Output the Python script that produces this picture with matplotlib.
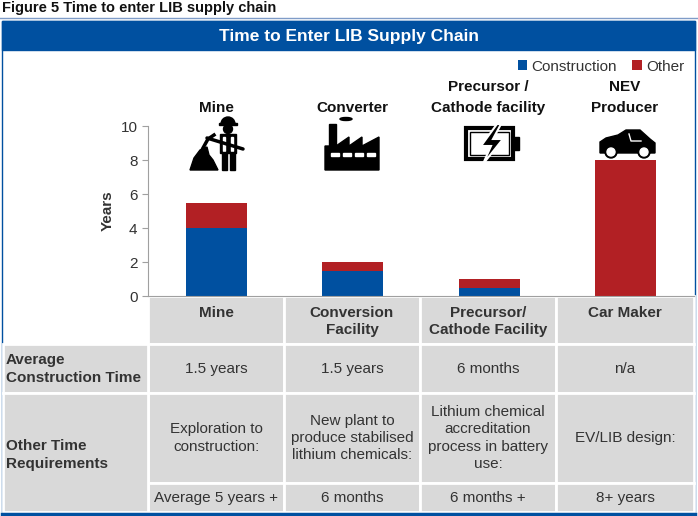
import matplotlib
matplotlib.use("Agg")
import matplotlib.pyplot as plt
from matplotlib.patches import Rectangle, Polygon, Circle, Wedge, Ellipse

plt.rcParams['font.family'] = ['Liberation Sans', 'DejaVu Sans']

categories = ["Mine", "Converter", "Precursor /\nCathode facility", "NEV\nProducer"]
construction = [4.0, 1.5, 0.5, 0.0]
other = [1.5, 0.5, 0.5, 8.0]
yticks = [0, 2, 4, 6, 8, 10]

table_cols = ["Mine", "Conversion\nFacility", "Precursor/\nCathode Facility", "Car Maker"]
row_labels = ["Average\nConstruction Time", "Other Time\nRequirements"]
avg_construction = ["1.5 years", "1.5 years", "6 months", "n/a"]
other_desc = ["Exploration to\nconstruction:", "New plant to\nproduce stabilised\nlithium chemicals:",
              "Lithium chemical\naccreditation\nprocess in battery\nuse:", "EV/LIB design:"]
other_time = ["Average 5 years +", "6 months", "6 months +", "8+ years"]

blue = "#0050a0"
red = "#b22024"
grey = "#d9d9d9"
txt = "#333333"

W, H = 698, 516
fig = plt.figure(figsize=(W / 100, H / 100), dpi=100)

# background layer in pixel coordinates
bg = fig.add_axes([0, 0, 1, 1])
bg.set_xlim(0, W)
bg.set_ylim(H, 0)
bg.axis("off")

bg.text(2, 8, "Figure 5 Time to enter LIB supply chain", fontsize=10.5, fontweight="bold",
        va="center", ha="left", color="#111111")
bg.plot([0, W], [17.5, 17.5], color="#7f9cc8", lw=1)

# frame and title bar
bg.add_patch(Rectangle((2, 21), 693, 491, fill=False, ec=blue, lw=1))
bg.add_patch(Rectangle((2, 21), 693, 29, color=blue))
bg.text(349, 36, "Time to Enter LIB Supply Chain", color="white", fontsize=12.5,
        fontweight="bold", ha="center", va="center")

# table
col_x = [148, 284, 420, 556, 694]
rows_y = [296, 344, 393, 483, 512]
for i in range(4):
    for j in range(4):
        bg.add_patch(Rectangle((col_x[i], rows_y[j]), col_x[i + 1] - col_x[i], rows_y[j + 1] - rows_y[j],
                               fc=grey, ec="white", lw=2))
bg.add_patch(Rectangle((3, 344), 145, 49, fc=grey, ec="white", lw=2))
bg.add_patch(Rectangle((3, 393), 145, 119, fc=grey, ec="white", lw=2))
bg.plot([2, 695], [513.5, 513.5], color=blue, lw=2.5)

for i in range(4):
    cx = (col_x[i] + col_x[i + 1]) / 2
    bg.text(cx, 306, table_cols[i], ha="center", va="top", fontsize=11, fontweight="bold",
            color=txt, linespacing=1.3)
    bg.text(cx, 369, avg_construction[i], ha="center", va="center", fontsize=11, color=txt)
    bg.text(cx, 438, other_desc[i], ha="center", va="center", fontsize=11, color=txt, linespacing=1.3)
    bg.text(cx, 498, other_time[i], ha="center", va="center", fontsize=11, color=txt)
bg.text(6, 369, row_labels[0], ha="left", va="center", fontsize=11, fontweight="bold",
        color=txt, linespacing=1.3)
bg.text(6, 455, row_labels[1], ha="left", va="center", fontsize=11, fontweight="bold",
        color=txt, linespacing=1.3)

# chart
ax = fig.add_axes([148 / W, (H - 296) / H, 546 / W, 170 / H])
ax.set_facecolor("none")
x = list(range(len(categories)))
b1 = ax.bar(x, construction, width=0.45, color=blue, label="Construction")
b2 = ax.bar(x, other, width=0.45, bottom=construction, color=red, label="Other")
ax.set_xlim(-0.5, 3.5)
ax.set_ylim(0, 10)
ax.set_yticks(yticks)
ax.tick_params(axis="y", labelsize=11, labelcolor=txt, color="#a0a0a0", length=4)
ax.set_xticks([])
for s in ["top", "right"]:
    ax.spines[s].set_visible(False)
for s in ["left", "bottom"]:
    ax.spines[s].set_color("#a0a0a0")
ax.set_ylabel("Years", fontsize=11, fontweight="bold", color=txt, labelpad=4)
ax.legend(loc="upper right", bbox_to_anchor=(692 / W, (H - 52) / H), bbox_transform=fig.transFigure,
          frameon=False, fontsize=11, handlelength=0.6, handleheight=0.6, handletextpad=0.3,
          columnspacing=1.0, ncol=2, labelcolor=txt, borderpad=0)

# category headings above the bars
for i, c in enumerate(categories):
    cx = (col_x[i] + col_x[i + 1]) / 2
    bg.text(cx, 115, c, ha="center", va="bottom", fontsize=11, fontweight="bold",
            color="#111111", linespacing=1.6)

# icons (drawn on the background layer)
k = "black"
# miner
bg.add_patch(Wedge((228, 124), 7, 180, 360, color=k))
bg.add_patch(Rectangle((219, 123), 18, 2, color=k))
bg.add_patch(Circle((228, 129), 4.5, color=k))
bg.add_patch(Rectangle((220, 134), 16, 19, color=k))
bg.add_patch(Rectangle((223, 137), 2, 14, color="white"))
bg.add_patch(Rectangle((231, 137), 2, 14, color="white"))
bg.add_patch(Rectangle((221.5, 152), 5, 18, color=k))
bg.add_patch(Rectangle((229.5, 152), 5, 18, color=k))
bg.plot([207, 243], [138, 149], color=k, lw=2.5, solid_capstyle="round")
bg.plot([203, 208, 214], [148, 139, 135], color=k, lw=2.5)
bg.add_patch(Polygon([(190, 170), (194, 158), (200, 150), (207, 147), (209, 155), (213, 160),
                      (218, 170)], color=k))
# factory
bg.add_patch(Rectangle((329, 124), 7, 24, color=k))
bg.add_patch(Ellipse((346, 119), 12, 3, color=k))
bg.add_patch(Polygon([(325, 170), (325, 146), (336, 146), (349, 137), (349, 146), (362, 137),
                      (362, 146), (379, 137), (379, 170)], color=k))
for dx in [331, 343, 355, 367]:
    bg.add_patch(Rectangle((dx, 153), 8, 2.5, color="white"))
# battery
bg.add_patch(Rectangle((466, 128), 47, 31, fill=False, ec=k, lw=3))
bg.add_patch(Rectangle((470, 132), 39, 23, fill=False, ec=k, lw=1))
bg.add_patch(Rectangle((513, 137), 6, 13, color=k))
bg.add_patch(Polygon([(497, 124), (481, 146), (491, 146), (483, 164), (503, 139), (493, 139),
                      (501, 124)], fc=k, ec="white", lw=1.5))
# car
bg.add_patch(Polygon([(600, 153), (600, 142), (606, 138), (618, 135), (626, 130), (640, 130),
                      (650, 139), (655, 143), (655, 153)], color=k))
bg.plot([629, 631, 641], [134, 141, 141], color="white", lw=1)
for wx in [611, 644]:
    bg.add_patch(Circle((wx, 152), 6, color=k))
    bg.add_patch(Circle((wx, 152), 4, color="white"))

fig.savefig("out.png", dpi=100)
